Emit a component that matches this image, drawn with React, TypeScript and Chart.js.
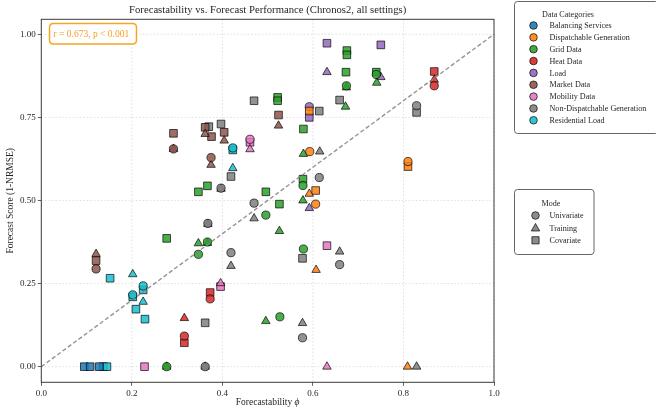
import { useEffect, useRef } from "react";
import { Chart, registerables } from "chart.js";

Chart.register(...registerables);

const chartTitle = "Forecastability vs. Forecast Performance (Chronos2, all settings)";
const xTitle = "Forecastability ";
const xTitleSymbol = "\u03D5";
const yTitle = "Forecast Score (1-NRMSE)";
const annotationText = "r = 0.673, p < 0.001";

const categories = [
  "Balancing Services",
  "Dispatchable Generation",
  "Grid Data",
  "Heat Data",
  "Load",
  "Market Data",
  "Mobility Data",
  "Non-Dispatchable Generation",
  "Residential Load",
];
const categoryColors = [
  "#1f77b4", "#ff7f0e", "#2ca02c", "#d62728", "#9467bd",
  "#8c564b", "#e377c2", "#7f7f7f", "#17becf",
];
const modes = ["Univariate", "Training", "Covariate"];
const modeShapes = ["circle", "triangle", "rect"];

const xTickValues = [0, 0.2, 0.4, 0.6, 0.8, 1.0];
const yTickValues = [0, 0.25, 0.5, 0.75, 1.0];

type P = [number, number];

const balancingUnivariate: P[] = [];
const balancingTraining: P[] = [];
const balancingCovariate: P[] = [[0.095, 0], [0.108, 0], [0.128, 0]];

const dispatchableUnivariate: P[] = [[0.593, 0.647], [0.606, 0.489], [0.81, 0.617]];
const dispatchableTraining: P[] = [[0.592, 0.52], [0.607, 0.291], [0.809, 0]];
const dispatchableCovariate: P[] = [[0.592, 0.769], [0.606, 0.53], [0.81, 0.602]];

const gridUnivariate: P[] = [
  [0.347, 0.338], [0.367, 0.375], [0.277, 0], [0.496, 0.456], [0.527, 0.15],
  [0.578, 0.545], [0.579, 0.354], [0.674, 0.845], [0.74, 0.879],
];
const gridTraining: P[] = [
  [0.347, 0.371], [0.367, 0.372], [0.277, 0], [0.526, 0.408], [0.496, 0.137],
  [0.578, 0.5], [0.579, 0.64], [0.672, 0.782], [0.674, 0.84], [0.741, 0.854],
];
const gridCovariate: P[] = [
  [0.277, 0.386], [0.347, 0.526], [0.367, 0.544], [0.496, 0.526], [0.526, 0.489],
  [0.578, 0.564], [0.579, 0.715], [0.522, 0.81], [0.522, 0.8], [0.675, 0.951],
  [0.675, 0.938], [0.673, 0.886], [0.74, 0.886],
];

const heatUnivariate: P[] = [[0.316, 0.092], [0.373, 0.204], [0.868, 0.845]];
const heatTraining: P[] = [[0.316, 0.146], [0.868, 0.863]];
const heatCovariate: P[] = [[0.316, 0.072], [0.373, 0.223], [0.868, 0.888]];

const loadUnivariate: P[] = [[0.592, 0.782]];
const loadTraining: P[] = [[0.592, 0.477], [0.631, 0.886], [0.75, 0.871]];
const loadCovariate: P[] = [[0.592, 0.75], [0.631, 0.973], [0.75, 0.968]];

const marketUnivariate: P[] = [[0.121, 0.294], [0.292, 0.655], [0.375, 0.629]];
const marketTraining: P[] = [
  [0.121, 0.339], [0.292, 0.655], [0.362, 0.7], [0.404, 0.68], [0.375, 0.607], [0.524, 0.725],
];
const marketCovariate: P[] = [
  [0.121, 0.319], [0.292, 0.702], [0.362, 0.72], [0.376, 0.692], [0.404, 0.705], [0.524, 0.757],
];

const mobilityUnivariate: P[] = [[0.461, 0.684]];
const mobilityTraining: P[] = [[0.396, 0.251], [0.631, 0], [0.461, 0.654]];
const mobilityCovariate: P[] = [[0.228, 0], [0.396, 0.241], [0.631, 0.364], [0.461, 0.675]];

const nonDispUnivariate: P[] = [
  [0.362, 0], [0.368, 0.431], [0.397, 0.537], [0.419, 0.343], [0.47, 0.492],
  [0.577, 0.087], [0.614, 0.569], [0.659, 0.307], [0.829, 0.785],
];
const nonDispTraining: P[] = [
  [0.362, 0], [0.368, 0.429], [0.397, 0.535], [0.419, 0.303], [0.47, 0.446],
  [0.577, 0.131], [0.615, 0.647], [0.659, 0.346], [0.829, 0],
];
const nonDispCovariate: P[] = [
  [0.362, 0.132], [0.37, 0.722], [0.397, 0.73], [0.419, 0.572], [0.47, 0.8],
  [0.577, 0.326], [0.614, 0.769], [0.659, 0.802], [0.829, 0.765],
];

const residentialUnivariate: P[] = [[0.225, 0.243], [0.202, 0.216], [0.423, 0.658]];
const residentialTraining: P[] = [[0.202, 0.278], [0.225, 0.195], [0.423, 0.597]];
const residentialCovariate: P[] = [
  [0.152, 0.266], [0.225, 0.231], [0.202, 0.21], [0.209, 0.173], [0.229, 0.143],
  [0.137, 0], [0.145, 0], [0.423, 0.652],
];

const seriesTable: P[][][] = [
  [balancingUnivariate, balancingTraining, balancingCovariate],
  [dispatchableUnivariate, dispatchableTraining, dispatchableCovariate],
  [gridUnivariate, gridTraining, gridCovariate],
  [heatUnivariate, heatTraining, heatCovariate],
  [loadUnivariate, loadTraining, loadCovariate],
  [marketUnivariate, marketTraining, marketCovariate],
  [mobilityUnivariate, mobilityTraining, mobilityCovariate],
  [nonDispUnivariate, nonDispTraining, nonDispCovariate],
  [residentialUnivariate, residentialTraining, residentialCovariate],
];

const diagonal: P[] = [[0, 0], [1, 1]];

const FONT = "'Liberation Serif', 'DejaVu Serif', serif";
const TEXT = "#262626";

function rgba(hex: string, a: number) {
  const n = parseInt(hex.slice(1), 16);
  return `rgba(${(n >> 16) & 255},${(n >> 8) & 255},${n & 255},${a})`;
}

const shapeRadius: Record<string, number> = { circle: 4.1, triangle: 4.9, rect: 5.4 };

function drawMarker(ctx: CanvasRenderingContext2D, shape: string, x: number, y: number, r: number, fill: string) {
  ctx.save();
  ctx.fillStyle = fill;
  ctx.strokeStyle = "rgba(0,0,0,0.85)";
  ctx.lineWidth = 0.8;
  ctx.beginPath();
  if (shape === "circle") {
    ctx.arc(x, y, r, 0, Math.PI * 2);
  } else if (shape === "triangle") {
    ctx.moveTo(x, y - r);
    ctx.lineTo(x + r * 0.95, y + r * 0.7);
    ctx.lineTo(x - r * 0.95, y + r * 0.7);
    ctx.closePath();
  } else {
    ctx.rect(x - r, y - r, 2 * r, 2 * r);
  }
  ctx.fill();
  ctx.stroke();
  ctx.restore();
}

function roundBox(ctx: CanvasRenderingContext2D, x: number, y: number, w: number, h: number, r: number) {
  ctx.beginPath();
  ctx.moveTo(x + r, y);
  ctx.lineTo(x + w - r, y);
  ctx.quadraticCurveTo(x + w, y, x + w, y + r);
  ctx.lineTo(x + w, y + h - r);
  ctx.quadraticCurveTo(x + w, y + h, x + w - r, y + h);
  ctx.lineTo(x + r, y + h);
  ctx.quadraticCurveTo(x, y + h, x, y + h - r);
  ctx.lineTo(x, y + r);
  ctx.quadraticCurveTo(x, y, x + r, y);
  ctx.closePath();
}

const decorPlugin = {
  id: "decor",
  beforeDatasetsDraw(chart: any) {
    const { ctx, chartArea, scales } = chart;
    const { left, right, top, bottom } = chartArea;
    ctx.save();
    ctx.strokeStyle = "rgba(190,190,190,0.7)";
    ctx.lineWidth = 0.7;
    ctx.setLineDash([1.5, 2]);
    for (const v of xTickValues) {
      const px = scales.x.getPixelForValue(v);
      ctx.beginPath();
      ctx.moveTo(px, top);
      ctx.lineTo(px, bottom);
      ctx.stroke();
    }
    for (const v of yTickValues) {
      const py = scales.y.getPixelForValue(v);
      ctx.beginPath();
      ctx.moveTo(left, py);
      ctx.lineTo(right, py);
      ctx.stroke();
    }
    ctx.restore();
  },
  afterDraw(chart: any) {
    const { ctx, chartArea } = chart;
    const { left, right, top, bottom } = chartArea;
    const cx = (left + right) / 2;
    ctx.save();
    // frame
    ctx.strokeStyle = "#3a3a3a";
    ctx.lineWidth = 1;
    ctx.strokeRect(left, top, right - left, bottom - top);

    // title
    ctx.fillStyle = TEXT;
    ctx.textAlign = "center";
    ctx.textBaseline = "middle";
    ctx.font = `10.7px ${FONT}`;
    ctx.fillText(chartTitle, cx, 10.5);

    // x title
    ctx.font = `9.5px ${FONT}`;
    const w1 = ctx.measureText(xTitle).width;
    ctx.font = `italic 9.5px ${FONT}`;
    const w2 = ctx.measureText(xTitleSymbol).width;
    const sx = cx - (w1 + w2) / 2;
    ctx.textAlign = "left";
    ctx.font = `9.5px ${FONT}`;
    ctx.fillText(xTitle, sx, 402.5);
    ctx.font = `italic 9.5px ${FONT}`;
    ctx.fillText(xTitleSymbol, sx + w1, 402.5);

    // y title
    ctx.save();
    ctx.translate(10.5, (top + bottom) / 2);
    ctx.rotate(-Math.PI / 2);
    ctx.textAlign = "center";
    ctx.font = `9.5px ${FONT}`;
    ctx.fillText(yTitle, 0, 0);
    ctx.restore();

    // annotation
    ctx.fillStyle = "#ffffff";
    ctx.strokeStyle = "#f5a623";
    ctx.lineWidth = 1.5;
    roundBox(ctx, 49.5, 23.5, 87, 20.5, 4);
    ctx.fill();
    ctx.stroke();
    ctx.fillStyle = "#f5a020";
    ctx.textAlign = "left";
    ctx.font = `9.5px ${FONT}`;
    ctx.fillText(annotationText, 53.5, 34);

    // legend 1
    ctx.fillStyle = "rgba(255,255,255,0.9)";
    ctx.strokeStyle = "#555555";
    ctx.lineWidth = 0.9;
    roundBox(ctx, 514.5, 1.5, 144, 132, 3);
    ctx.fill();
    ctx.stroke();
    ctx.fillStyle = TEXT;
    ctx.textAlign = "center";
    ctx.font = `8.1px ${FONT}`;
    ctx.fillText("Data Categories", 568, 15);
    ctx.textAlign = "left";
    categories.forEach((c, i) => {
      const yy = 25.5 + i * 11.85;
      drawMarker(ctx, "circle", 533.5, yy, 3.8, rgba(categoryColors[i], 0.9));
      ctx.fillStyle = TEXT;
      ctx.fillText(c, 549.5, yy + 0.5);
    });

    // legend 2
    ctx.fillStyle = "rgba(255,255,255,0.9)";
    ctx.strokeStyle = "#555555";
    roundBox(ctx, 514.5, 189.5, 79.5, 65, 3);
    ctx.fill();
    ctx.stroke();
    ctx.fillStyle = TEXT;
    ctx.textAlign = "center";
    ctx.fillText("Mode", 551, 204);
    ctx.textAlign = "left";
    modes.forEach((m, i) => {
      const yy = 215.5 + i * 12.4;
      const shape = modeShapes[i];
      const r = shape === "circle" ? 3.8 : shape === "triangle" ? 4.4 : 3.6;
      drawMarker(ctx, shape, 535.5, yy, r, "rgba(128,128,128,0.9)");
      ctx.fillStyle = TEXT;
      ctx.fillText(m, 549.5, yy + 0.5);
    });
    ctx.restore();
  },
};

export default function App() {
  const ref = useRef<HTMLCanvasElement | null>(null);

  useEffect(() => {
    if (!ref.current) return;
    const datasets: any[] = [];
    seriesTable.forEach((row, ci) => {
      row.forEach((pts, mi) => {
        if (!pts.length) return;
        const shape = modeShapes[mi];
        datasets.push({
          type: "scatter",
          label: `${categories[ci]} - ${modes[mi]}`,
          data: pts.map(([x, y]) => ({ x, y })),
          pointStyle: shape,
          pointRadius: shapeRadius[shape],
          pointBackgroundColor: rgba(categoryColors[ci], 0.85),
          pointBorderColor: "rgba(0,0,0,0.85)",
          pointBorderWidth: 0.8,
          order: 1,
        });
      });
    });
    datasets.push({
      type: "line",
      label: "y = x",
      data: diagonal.map(([x, y]) => ({ x, y })),
      borderColor: "rgba(128,128,128,0.85)",
      borderWidth: 1.4,
      borderDash: [4.2, 2.4],
      pointRadius: 0,
      fill: false,
      order: 0,
    });

    const chart = new Chart(ref.current, {
      type: "scatter",
      data: { datasets },
      options: {
        animation: false,
        responsive: true,
        maintainAspectRatio: false,
        events: [],
        layout: { padding: { top: 19.3, right: 162, left: 0, bottom: 0 } },
        plugins: { legend: { display: false }, title: { display: false }, tooltip: { enabled: false } },
        scales: {
          x: {
            type: "linear",
            min: 0,
            max: 1,
            afterBuildTicks: (s: any) => { s.ticks = xTickValues.map((v) => ({ value: v })); },
            afterFit: (s: any) => { s.height = 24.7; },
            ticks: {
              callback: (v: any) => Number(v).toFixed(1),
              font: { family: FONT, size: 9 },
              color: TEXT,
              padding: 2,
              maxRotation: 0,
            },
            grid: { drawOnChartArea: false, drawTicks: true, tickLength: 3.5, tickColor: "#3a3a3a", tickWidth: 0.8 },
            border: { display: false },
          },
          y: {
            type: "linear",
            min: -0.047,
            max: 1.045,
            afterBuildTicks: (s: any) => { s.ticks = yTickValues.map((v) => ({ value: v })); },
            afterFit: (s: any) => { s.width = 41.3; },
            ticks: {
              callback: (v: any) => Number(v).toFixed(2),
              font: { family: FONT, size: 9 },
              color: TEXT,
              padding: 2,
            },
            grid: { drawOnChartArea: false, drawTicks: true, tickLength: 3.5, tickColor: "#3a3a3a", tickWidth: 0.8 },
            border: { display: false },
          },
        },
      },
      plugins: [decorPlugin],
    });
    return () => chart.destroy();
  }, []);

  return (
    <div style={{ position: "fixed", left: 0, top: 0, width: 656, height: 407, background: "#fff" }}>
      <canvas ref={ref} />
    </div>
  );
}
